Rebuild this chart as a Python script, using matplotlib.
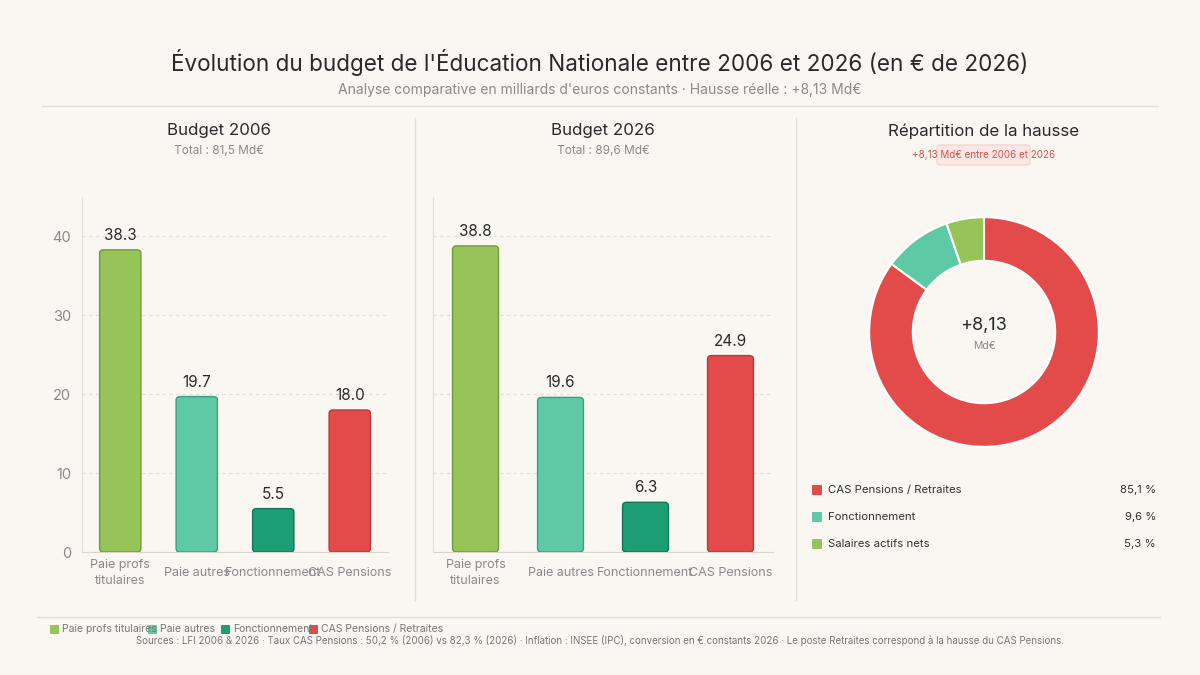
import matplotlib.pyplot as plt
from matplotlib.patches import FancyBboxPatch
from matplotlib.lines import Line2D

plt.rcParams['font.family'] = ['Inter', 'DejaVu Sans']

# data (Md€ constants 2026)
categories = ['Paie profs\ntitulaires', 'Paie autres', 'Fonctionnement', 'CAS Pensions']
budget_2006 = [38.3, 19.7, 5.5, 18.0]
budget_2026 = [38.8, 19.6, 6.3, 24.9]
total_2006 = '81,5'
total_2026 = '89,6'

hausse_labels = ['CAS Pensions / Retraites', 'Fonctionnement', 'Salaires actifs nets']
hausse_pct = [85.1, 9.6, 5.3]
hausse_total = '+8,13'

legend_labels = ['Paie profs titulaires', 'Paie autres', 'Fonctionnement', 'CAS Pensions / Retraites']

bar_colors = ['#97c459', '#5dcaa5', '#1d9e75', '#e24b4a']
bar_edges = ['#6f9a3a', '#3d9e7e', '#137556', '#b83a39']
donut_colors = ['#e24b4a', '#5dcaa5', '#97c459']

bg = '#faf7f3'
grey = '#8a8a8a'
dark = '#2a2a2a'
sep = '#e2ded8'

fig = plt.figure(figsize=(12, 6.75), dpi=100, facecolor=bg)

def fx(px):
    return px / 1200

def fy(py):
    return 1 - py / 675

# header
fig.text(0.5, fy(62), "Évolution du budget de l'Éducation Nationale entre 2006 et 2026 (en € de 2026)",
         ha='center', va='center', fontsize=16.2, color=dark)
fig.text(0.5, fy(90), "Analyse comparative en milliards d'euros constants · Hausse réelle : +8,13 Md€",
         ha='center', va='center', fontsize=10, color=grey)
fig.add_artist(Line2D([fx(42), fx(1158)], [fy(106), fy(106)], color=sep, lw=1))
fig.add_artist(Line2D([fx(37), fx(1160)], [fy(617), fy(617)], color=sep, lw=1))
for x in (415, 796):
    fig.add_artist(Line2D([fx(x), fx(x)], [fy(118), fy(600)], color=sep, lw=1))


def bar_panel(rect, values, show_y):
    ax = fig.add_axes(rect)
    ax.set_facecolor(bg)
    xs = range(len(values))
    bars = ax.bar(xs, values, width=0.54, color=bar_colors, edgecolor=bar_edges, linewidth=1)
    # rounded corners
    for b, c, e in zip(bars, bar_colors, bar_edges):
        b.set_visible(False)
        p = FancyBboxPatch((b.get_x(), b.get_y()), b.get_width(), b.get_height(),
                           boxstyle='round,pad=0,rounding_size=0.05', mutation_aspect=9,
                           facecolor=c, edgecolor=e, linewidth=1, zorder=3)
        ax.add_patch(p)
    for x, v in zip(xs, values):
        ax.annotate(f'{v:.1f}', (x, v), xytext=(0, 5), textcoords='offset points',
                    ha='center', va='bottom', fontsize=11, color=dark)
    ax.set_xlim(-0.5, len(values) - 0.5)
    ax.set_ylim(0, 45)
    ax.set_yticks([0, 10, 20, 30, 40])
    ax.grid(axis='y', color='#e2ded8', linestyle=(0, (3, 3)), lw=0.8)
    ax.set_axisbelow(True)
    for s in ('top', 'right'):
        ax.spines[s].set_visible(False)
    ax.spines['left'].set_color('#e2ded8')
    ax.spines['bottom'].set_color('#d8d4ce')
    ax.set_xticks(list(xs))
    ax.set_xticklabels(categories, fontsize=9, color=grey, linespacing=1.4)
    for lab in ax.get_xticklabels():
        lab.set_va('center')
    ax.tick_params(axis='x', length=0, pad=15)
    ax.tick_params(axis='y', length=0, pad=8, labelsize=10.5, labelcolor=grey)
    if not show_y:
        ax.set_yticklabels([])
    return ax

ax1 = bar_panel([fx(82), fy(552), fx(306), 355 / 675], budget_2006, True)
ax2 = bar_panel([fx(433), fy(552), fx(340), 355 / 675], budget_2026, False)

fig.text(fx(219), fy(131), 'Budget 2006', ha='center', va='center', fontsize=12.2, color=dark)
fig.text(fx(219), fy(151), f'Total : {total_2006} Md€', ha='center', va='center', fontsize=8.5, color=grey)
fig.text(fx(603), fy(131), 'Budget 2026', ha='center', va='center', fontsize=12.2, color=dark)
fig.text(fx(603), fy(151), f'Total : {total_2026} Md€', ha='center', va='center', fontsize=8.5, color=grey)

# donut
fig.text(fx(984), fy(131), 'Répartition de la hausse', ha='center', va='center', fontsize=12.2, color=dark)
fig.add_artist(FancyBboxPatch((fx(937), fy(165)), fx(93), 20 / 675,
                              boxstyle='round,pad=0,rounding_size=0.003',
                              facecolor='#fbe8e4', edgecolor='#f3cfc8', lw=0.8))
fig.text(fx(984), fy(155), '+8,13 Md€ entre 2006 et 2026', ha='center', va='center',
         fontsize=7.1, color='#d5534c')

axd = fig.add_axes([fx(868), fy(448), fx(232), 232 / 675])
axd.pie(hausse_pct, colors=donut_colors, startangle=90, counterclock=False, radius=1,
        wedgeprops=dict(width=0.38, edgecolor='white', linewidth=1.5))
axd.set_xlim(-1.01, 1.01)
axd.set_ylim(-1.01, 1.01)
axd.text(0, 0.06, hausse_total, ha='center', va='center', fontsize=13, color=dark)
axd.text(0, -0.12, 'Md€', ha='center', va='center', fontsize=7.5, color=grey)

for i, (lab, pct, c) in enumerate(zip(hausse_labels, hausse_pct, donut_colors)):
    y = 490 + i * 27
    fig.add_artist(FancyBboxPatch((fx(812), fy(y + 5)), fx(10), 10 / 675,
                                  boxstyle='round,pad=0,rounding_size=0.001', facecolor=c, edgecolor='none'))
    fig.text(fx(828), fy(y), lab, ha='left', va='center', fontsize=8.2, color='#333333')
    fig.text(fx(1156), fy(y), f'{pct:.1f} %'.replace('.', ','), ha='right', va='center',
             fontsize=8.2, color='#333333')

# bottom legend
leg_x = [50, 148, 221, 309]
for x, lab, c in zip(leg_x, legend_labels, bar_colors):
    fig.add_artist(FancyBboxPatch((fx(x), fy(634)), fx(9), 9 / 675,
                                  boxstyle='round,pad=0,rounding_size=0.001', facecolor=c, edgecolor='none'))
    fig.text(fx(x + 12), fy(629), lab, ha='left', va='center', fontsize=7.5, color='#777777')

fig.text(0.5, fy(640), 'Sources : LFI 2006 & 2026 · Taux CAS Pensions : 50,2 % (2006) vs 82,3 % (2026) · '
         'Inflation : INSEE (IPC), conversion en € constants 2026 · Le poste Retraites correspond à la hausse du CAS Pensions.',
         ha='center', va='center', fontsize=7.0, color='#777777')

fig.savefig('out.png', dpi=100, facecolor=bg)
